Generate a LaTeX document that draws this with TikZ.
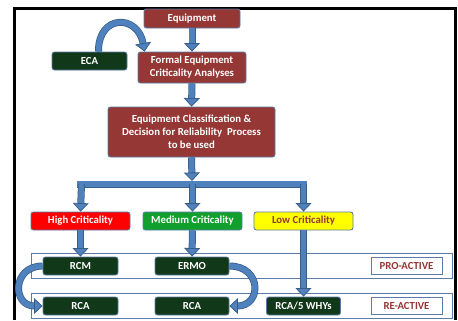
\documentclass[tikz,border=0pt]{standalone}
\usepackage{fontspec}
\setmainfont{Carlito}
\usetikzlibrary{arrows.meta}
\definecolor{darkred}{HTML}{953735}
\definecolor{darkgrn}{HTML}{12381A}
\definecolor{boxline}{HTML}{5B7BA6}
\definecolor{arrowblue}{HTML}{4F81BD}
\definecolor{arrowdark}{HTML}{385D8A}
\definecolor{hired}{HTML}{FF0000}
\definecolor{medgrn}{HTML}{11A02E}
\definecolor{lowyel}{HTML}{FFFF00}
\tikzset{
  basebox/.style={rounded corners=2.5bp, draw=boxline, line width=0.9bp, inner sep=0pt, align=center,
    font=\fontsize{10.8}{13}\selectfont\bfseries},
  redbox/.style={basebox, fill=darkred, text=white},
  grnbox/.style={basebox, fill=darkgrn, text=white, minimum width=75bp, minimum height=18bp},
  critbox/.style={basebox, minimum width=99bp, minimum height=18bp},
  tagbox/.style={draw=boxline, line width=0.9bp, fill=white, text=darkred, inner sep=0pt,
    minimum width=71bp, minimum height=17bp, font=\fontsize{10.8}{13}\selectfont\bfseries},
  band/.style={draw=boxline, line width=0.9bp, fill=white, minimum width=421bp, minimum height=25bp, inner sep=0pt},
  barrow/.style={line width=5.5bp, draw=arrowblue,
    -{Triangle[width=16bp,length=8.5bp,line width=0.8bp,fill=arrowblue,color=arrowdark]},
    preaction={draw=arrowdark, line width=7bp, arrows=-, shorten >=8bp}},
  barline/.style={line width=5.5bp, draw=arrowblue, preaction={draw=arrowdark, line width=7bp}},
}
\begin{document}
\begin{tikzpicture}[x=1bp,y=-1bp]
\useasboundingbox (0,0) rectangle (458,320);
\fill[white] (0,0) rectangle (458,320);
% outer frame
\draw[line width=3bp] (14.5,320) -- (14.5,8) -- (455.5,8) -- (455.5,320);

% bands
\node[band] (proband) at (241.5,265.5) {};
\node[band] (reband) at (241.5,305.5) {};

% boxes
\node[redbox, minimum width=96bp, minimum height=19bp] (equip) at (192,18.5) {Equipment};
\node[grnbox] (eca) at (89.5,61) {ECA};
\node[redbox, minimum width=108bp, minimum height=31bp] (formal) at (192,67.5) {Formal Equipment\\Criticality Analyses};
\node[redbox, minimum width=167bp, minimum height=50bp] (classif) at (191.5,132) {Equipment Classification \&\\Decision for Reliability\ \ Process\\to be used};

\node[critbox, fill=hired, text=white] (high) at (80.5,221) {High Criticality};
\node[critbox, fill=medgrn, text=white] (med) at (192.5,221) {Medium Criticality};
\node[critbox, fill=lowyel, text=darkred] (low) at (303.5,221) {Low Criticality};

\node[grnbox] (rcm) at (80.5,266) {RCM};
\node[grnbox, minimum width=74bp] (ermo) at (192,266) {ERMO};
\node[grnbox] (rca1) at (80.5,306) {RCA};
\node[grnbox, minimum width=74bp] (rca2) at (192,306) {RCA};
\node[grnbox, minimum width=74bp] (rca5) at (303.5,306) {RCA/5 WHYs};

\node[tagbox] (pro) at (406.5,265.5) {PRO-ACTIVE};
\node[tagbox] (re) at (406.5,306) {RE-ACTIVE};

% straight arrows
\draw[barrow] (equip.south) -- (formal.north);
\draw[barrow] (formal.south) -- (classif.north);
\coordinate (barmid) at (192,181);
\coordinate (barL) at (77,184);
\coordinate (barR) at (307,184);
\coordinate (bH) at (81.5,184);
\coordinate (bM) at (192.5,184);
\coordinate (bL) at (303.5,184);
\draw[barline] (barL) -- (barR);
\draw[barrow] (classif.south) -- (barmid);
\draw[barrow] (bH) -- (high.north);
\draw[barrow] (bM) -- (med.north);
\draw[barrow] (bL) -- (low.north);
\draw[barrow] (high.south) -- (rcm.north);
\draw[barrow] (med.south) -- (ermo.north);
\draw[barrow] (low.south) -- (rca5.north);

% curved arrows
\coordinate (ecaTop) at ([xshift=9bp]eca.north);
\coordinate (formalTL) at ([xshift=7bp]formal.north west);
\draw[barrow] (ecaTop) .. controls (98,14) and (138,14) .. (formalTL);
\draw[barrow] (rcm.west) .. controls (12,266) and (12,306) .. (rca1.west);
\draw[barrow] (ermo.east) .. controls (262,266) and (262,306) .. (rca2.east);
\end{tikzpicture}
\end{document}
